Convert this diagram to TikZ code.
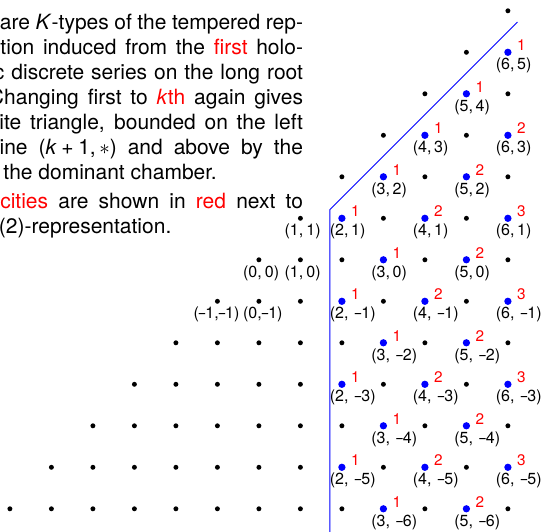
\documentclass[tikz,border=0pt]{standalone}
\usepackage{graphicx}
\usepackage{fontspec}
\setmainfont{TeX Gyre Heros}
\newcommand{\mn}{\makebox[0.4em]{\scalebox{0.72}[1]{\char"2013\relax}}}
\newcommand{\sgn}[1]{\ifnum#1<0 \hspace{0.4em}\mn\number-#1\else\hspace{0.17em}#1\fi}
\begin{document}
\begin{tikzpicture}[x=1cm,y=1cm,
  blk/.style={circle,fill=black,inner sep=0,outer sep=0,minimum size=3.4pt},
  blu/.style={circle,fill=blue,inner sep=0,outer sep=0,minimum size=5pt},
  lab/.style={inner sep=0,outer sep=0,anchor=base west,font=\fontsize{11}{13}\selectfont},
  mult/.style={inner sep=0,outer sep=0,text=red,anchor=base,font=\fontsize{10.5}{12}\selectfont},
  txt/.style={inner sep=0,outer sep=0,anchor=base west,font=\fontsize{14.4}{17}\selectfont},
  wall/.style={blue,line width=0.6pt}]
\useasboundingbox (-6.2386,-6.5590) rectangle (6.8699,6.2602);
\clip (-6.2386,-6.5590) rectangle (6.8699,6.2602);

% text
\node[txt] (t1) at (-6.2386,5.5373) {\makebox[7.3013cm][s]{are \textit{K}-types of the tempered rep-}};
\node[txt] (t2) at (-6.2265,4.9349) {\makebox[7.2892cm][s]{tion induced from the \textcolor{red}{first} holo-}};
\node[txt] (t3) at (-6.3831,4.3325) {\makebox[7.4458cm][s]{c discrete series on the long root}};
\node[txt] (t4) at (-6.5036,3.7301) {\makebox[7.5663cm][s]{Changing first to \textcolor{red}{\textit{k}th} again gives}};
\node[txt] (t5) at (-6.2506,3.1277) {\makebox[7.3133cm][s]{ite triangle, bounded on the left}};
\node[txt] (t6) at (-6.2482,2.5253) {\makebox[7.3109cm][s]{ine (\textit{k}\hspace{0.22em}+\hspace{0.22em}1,\hspace{0.17em}$\ast$) and above by the}};
\node[txt] (t7) at (-6.1542,1.9229) {the dominant chamber.};
\node[txt] (t8) at (-6.2313,1.2241) {\makebox[7.2940cm][s]{\textcolor{red}{cities} are shown in \textcolor{red}{red} next to}};
\node[txt] (t9) at (-6.2627,0.6217) {(2)-representation.};

% boundary
\coordinate (wtop) at (6.23,5.73);
\coordinate (wcorner) at (1.71,1.21);
\coordinate (wbot) at (1.71,-6.9);
\draw[wall] (wtop) -- (wcorner) -- (wbot);

% dots
\foreach \j in {-6,...,6} {
  \foreach \i in {\j,...,6} {
    \pgfmathtruncatemacro\ii{\i+10}
    \pgfmathtruncatemacro\jj{\j+10}
    \pgfmathtruncatemacro\parity{mod(\i+\j+20,2)}
    \def\sty{blk}
    \ifnum\i>1 \ifnum\parity=1 \def\sty{blu}\fi\fi
    \node[\sty] (d-\ii-\jj) at (\i,\j) {};
    \ifnum\i>1 \ifnum\parity=1
      \pgfmathtruncatemacro\m{min(floor(\i/2),(\i-\j+1)/2)}
      \node[lab] at ([shift={(-8.3pt,-12.0pt)}]d-\ii-\jj.center) {(\i,\sgn{\j})};
      \node[mult] at ([shift={(9.3pt,0.9pt)}]d-\ii-\jj.center) {\m};
    \fi\fi
  }
}

% labels of black dots
\node[lab] at ([shift={(-10.8pt,-12.0pt)}]d-11-11.center) {(1,\hspace{0.19em}1)};
\node[lab] at ([shift={(-10.8pt,-12.0pt)}]d-10-10.center) {(0,\hspace{0.19em}0)};
\node[lab] at ([shift={(-10.8pt,-12.0pt)}]d-11-10.center) {(1,\hspace{0.19em}0)};
\node[lab] at ([shift={(-16.3pt,-12.0pt)}]d-9-9.center) {(\mn 1,\mn 1)};
\node[lab] at ([shift={(-10.8pt,-12.0pt)}]d-10-9.center) {(0,\mn 1)};
\end{tikzpicture}
\end{document}
